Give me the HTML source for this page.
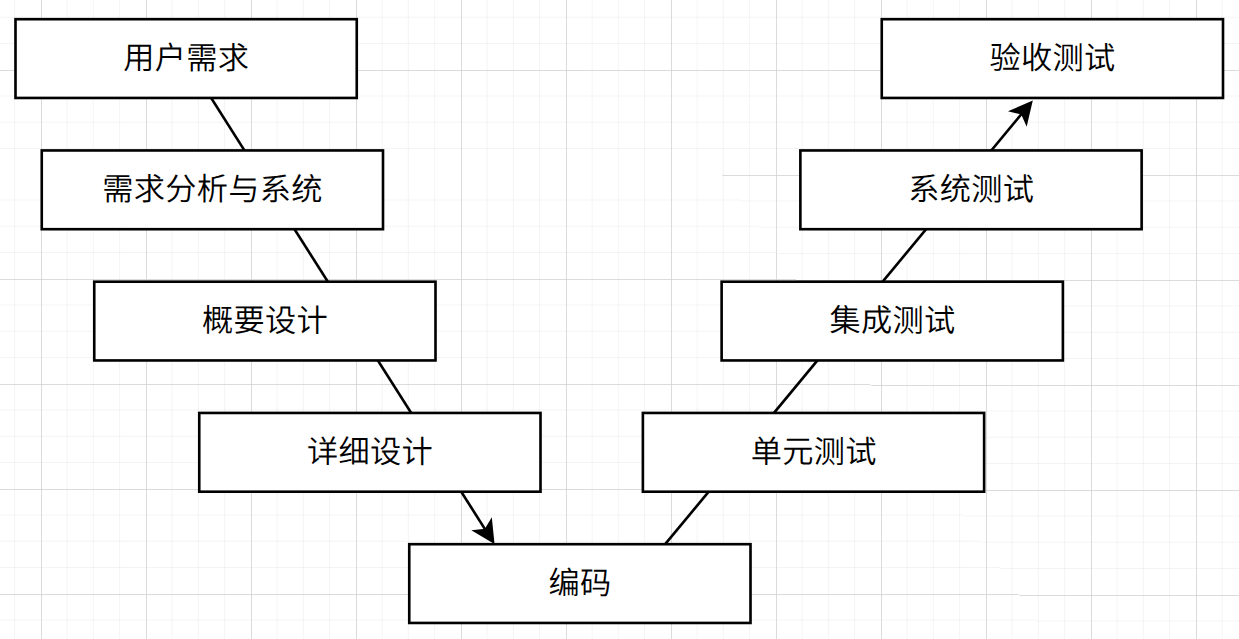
<!DOCTYPE html>
<html lang="zh-CN"><head><meta charset="utf-8"><title>V模型</title>
<style>
html,body{margin:0;padding:0;background:#fff;}
body{width:1239px;height:639px;overflow:hidden;position:relative;}
svg{position:absolute;left:0;top:0;display:block;}
.t{font-family:"Liberation Sans","Noto Sans CJK SC",sans-serif;font-size:31.2px;font-weight:350;letter-spacing:0.3px;fill:#000;text-anchor:middle;}
</style></head><body>
<svg width="1239" height="639" viewBox="0 0 1239 639">
<defs>
<clipPath id="ga"><path d="M0 0H1239 V639 H1050.326 L722 175 H0Z"/></clipPath>
<clipPath id="gb"><path d="M0 175 H722 L1050.326 639 H0Z"/></clipPath>
</defs>
<g clip-path="url(#ga)">
<path d="M14.6 -4V643M67.1 -4V643M93.35 -4V643M119.6 -4V643M172.1 -4V643M198.35 -4V643M224.6 -4V643M277.1 -4V643M303.35 -4V643M329.6 -4V643M382.1 -4V643M408.35 -4V643M434.6 -4V643M487.1 -4V643M513.35 -4V643M539.6 -4V643M592.1 -4V643M618.35 -4V643M644.6 -4V643M697.1 -4V643M723.35 -4V643M749.6 -4V643M802.1 -4V643M828.35 -4V643M854.6 -4V643M907.1 -4V643M933.35 -4V643M959.6 -4V643M1012.1 -4V643M1038.35 -4V643M1064.6 -4V643M1117.1 -4V643M1143.35 -4V643M1169.6 -4V643M1222.1 -4V643" stroke="#d0d0d0" stroke-opacity="0.24" stroke-width="1" fill="none"/>
<path d="M-4 17.25H1243M-4 43.5H1243M-4 96H1243M-4 122.25H1243M-4 148.5H1243M-4 201H1243M-4 227.25H1243M-4 253.5H1243M-4 306H1243M-4 332.25H1243M-4 358.5H1243M-4 411H1243M-4 437.25H1243M-4 463.5H1243M-4 516H1243M-4 542.25H1243M-4 568.5H1243M-4 621H1243" stroke="#d0d0d0" stroke-opacity="0.24" stroke-width="1" fill="none"/>
<path d="M41.5 -4V643M146.5 -4V643M251.5 -4V643M356.5 -4V643M461.5 -4V643M566.5 -4V643M671.5 -4V643M776.5 -4V643M881.5 -4V643M986.5 -4V643M1091.5 -4V643M1196.5 -4V643" stroke="#cecfd0" stroke-opacity="0.74" stroke-width="1" fill="none"/>
<path d="M-4 70.5H1243M-4 175.5H1243M-4 280.5H1243M-4 385.5H1243M-4 490.5H1243M-4 595.5H1243" stroke="#cecfd0" stroke-opacity="0.74" stroke-width="1" fill="none"/>
</g>
<g clip-path="url(#gb)"><g transform="translate(0,-1)">
<path d="M14.6 -4V643M67.1 -4V643M93.35 -4V643M119.6 -4V643M172.1 -4V643M198.35 -4V643M224.6 -4V643M277.1 -4V643M303.35 -4V643M329.6 -4V643M382.1 -4V643M408.35 -4V643M434.6 -4V643M487.1 -4V643M513.35 -4V643M539.6 -4V643M592.1 -4V643M618.35 -4V643M644.6 -4V643M697.1 -4V643M723.35 -4V643M749.6 -4V643M802.1 -4V643M828.35 -4V643M854.6 -4V643M907.1 -4V643M933.35 -4V643M959.6 -4V643M1012.1 -4V643M1038.35 -4V643M1064.6 -4V643M1117.1 -4V643M1143.35 -4V643M1169.6 -4V643M1222.1 -4V643" stroke="#d0d0d0" stroke-opacity="0.24" stroke-width="1" fill="none"/>
<path d="M-4 17.25H1243M-4 43.5H1243M-4 96H1243M-4 122.25H1243M-4 148.5H1243M-4 201H1243M-4 227.25H1243M-4 253.5H1243M-4 306H1243M-4 332.25H1243M-4 358.5H1243M-4 411H1243M-4 437.25H1243M-4 463.5H1243M-4 516H1243M-4 542.25H1243M-4 568.5H1243M-4 621H1243" stroke="#d0d0d0" stroke-opacity="0.24" stroke-width="1" fill="none"/>
<path d="M41.5 -4V643M146.5 -4V643M251.5 -4V643M356.5 -4V643M461.5 -4V643M566.5 -4V643M671.5 -4V643M776.5 -4V643M881.5 -4V643M986.5 -4V643M1091.5 -4V643M1196.5 -4V643" stroke="#cecfd0" stroke-opacity="0.74" stroke-width="1" fill="none"/>
<path d="M-4 70.5H1243M-4 175.5H1243M-4 280.5H1243M-4 385.5H1243M-4 490.5H1243M-4 595.5H1243" stroke="#cecfd0" stroke-opacity="0.74" stroke-width="1" fill="none"/>
</g></g>
<path d="M186.125 58.575L485.598 530.089" stroke="#000" stroke-width="2.625" fill="none"/>
<path d="M492.987 541.723L475.38 531.137L485.598 530.089L490.891 521.286Z" stroke="#000" stroke-width="2.625" stroke-miterlimit="10" fill="#000"/>
<path d="M665.19 544.2L1022.137 113.273" stroke="#000" stroke-width="2.625" fill="none"/>
<path d="M1030.928 102.66L1026.282 122.672L1022.137 113.273L1012.131 110.95Z" stroke="#000" stroke-width="2.625" stroke-miterlimit="10" fill="#000"/>
<rect x="15.5" y="19.2" width="341.25" height="78.75" fill="#fff" stroke="#000" stroke-width="2.625"/>
<rect x="41.75" y="150.45" width="341.25" height="78.75" fill="#fff" stroke="#000" stroke-width="2.625"/>
<rect x="94.25" y="281.7" width="341.25" height="78.75" fill="#fff" stroke="#000" stroke-width="2.625"/>
<rect x="199.25" y="412.95" width="341.25" height="78.75" fill="#fff" stroke="#000" stroke-width="2.625"/>
<rect x="409.25" y="544.2" width="341.25" height="78.75" fill="#fff" stroke="#000" stroke-width="2.625"/>
<rect x="642.875" y="412.95" width="341.25" height="78.75" fill="#fff" stroke="#000" stroke-width="2.625"/>
<rect x="721.625" y="281.7" width="341.25" height="78.75" fill="#fff" stroke="#000" stroke-width="2.625"/>
<rect x="800.375" y="150.45" width="341.25" height="78.75" fill="#fff" stroke="#000" stroke-width="2.625"/>
<rect x="881.75" y="19.2" width="341.25" height="78.75" fill="#fff" stroke="#000" stroke-width="2.625"/>
<text class="t" transform="translate(186.275 68.875) rotate(0.05)">用户需求</text>
<text class="t" transform="translate(212.525 200.125) rotate(0.05)">需求分析与系统</text>
<text class="t" transform="translate(265.025 331.375) rotate(0.05)">概要设计</text>
<text class="t" transform="translate(370.025 462.625) rotate(0.05)">详细设计</text>
<text class="t" transform="translate(580.025 593.875) rotate(0.05)">编码</text>
<text class="t" transform="translate(813.65 462.625) rotate(0.05)">单元测试</text>
<text class="t" transform="translate(892.4 331.375) rotate(0.05)">集成测试</text>
<text class="t" transform="translate(971.15 200.125) rotate(0.05)">系统测试</text>
<text class="t" transform="translate(1052.525 68.875) rotate(0.05)">验收测试</text>
</svg>
</body></html>
